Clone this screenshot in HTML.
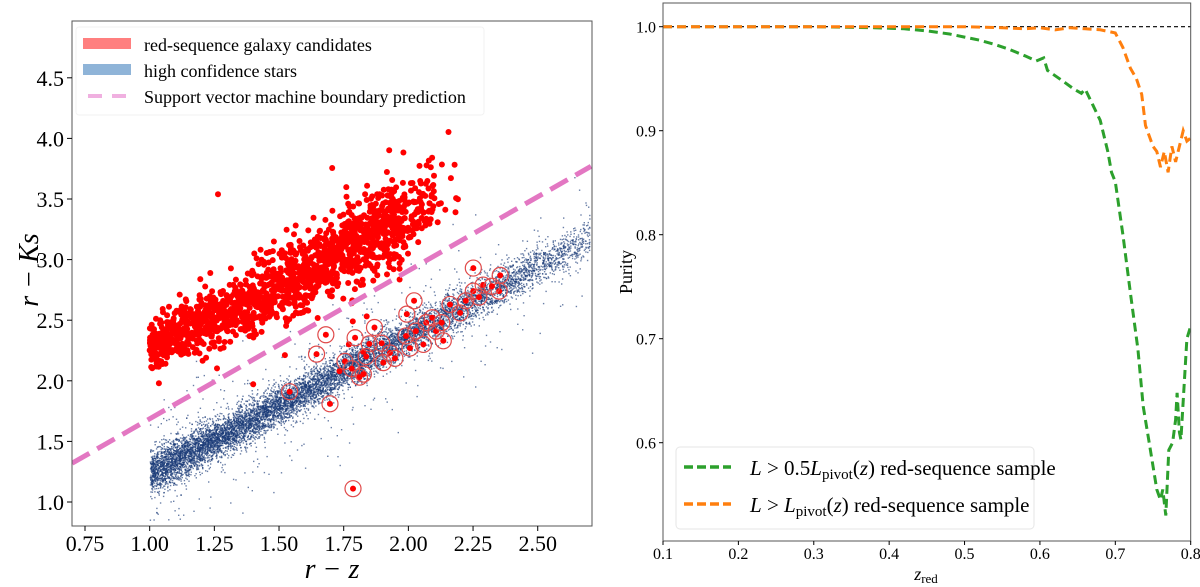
<!DOCTYPE html>
<html><head><meta charset="utf-8"><style>
html,body{margin:0;padding:0;background:#fff;}
svg{display:block;font-family:"Liberation Serif",serif;}
</style></head><body>
<svg width="1200" height="587" viewBox="0 0 1200 587" xmlns="http://www.w3.org/2000/svg">
<g id="left"></g>
<g id="right"></g>
</svg>
<script>
// ---- Left panel data ----
const xTicksL = [0.75,1.00,1.25,1.50,1.75,2.00,2.25,2.50];
const xTickLabelsL = ["0.75","1.00","1.25","1.50","1.75","2.00","2.25","2.50"];
const yTicksL = [1.0,1.5,2.0,2.5,3.0,3.5,4.0,4.5];
const yTickLabelsL = ["1.0","1.5","2.0","2.5","3.0","3.5","4.0","4.5"];
const svmX = [0.70, 2.706];
const svmY = [1.32, 3.77];
// red-sequence cloud: bin starts, counts, mean, spread
const galBinX = [1.00,1.10,1.20,1.30,1.40,1.50,1.60,1.70,1.80,1.90,2.00,2.10];
const galCount = [150,140,130,130,140,150,160,170,170,150,70,12];
const galMean = [2.28,2.37,2.47,2.57,2.67,2.78,2.89,3.00,3.12,3.25,3.38,3.45];
const galSd = [0.10,0.11,0.12,0.13,0.14,0.15,0.15,0.16,0.17,0.17,0.18,0.18];
// star cloud
const starBinX = [1.00,1.10,1.20,1.30,1.40,1.50,1.60,1.70,1.80,1.90,2.00,2.10,2.20,2.30,2.40,2.50,2.60];
const starCount = [900,900,850,800,750,700,650,620,600,580,550,500,450,400,330,260,200];
const starMean = [1.24,1.35,1.46,1.57,1.69,1.80,1.92,2.03,2.15,2.26,2.38,2.49,2.61,2.72,2.84,2.95,3.07];
const starSd = [0.09,0.09,0.08,0.08,0.08,0.08,0.08,0.08,0.08,0.08,0.08,0.08,0.08,0.08,0.08,0.08,0.08];
// circled candidates
const circX = [1.541,1.697,1.645,1.681,1.794,1.869,1.755,1.781,1.811,1.826,1.837,1.849,1.897,1.929,1.903,1.948,1.991,1.994,2.022,2.006,2.029,2.058,2.069,2.092,2.107,2.135,2.129,2.161,2.200,2.222,2.251,2.273,2.289,2.251,2.351,2.355,2.323,1.786];
const circY = [1.91,1.81,2.22,2.38,2.355,2.44,2.16,2.10,2.03,2.055,2.20,2.305,2.31,2.23,2.15,2.185,2.37,2.55,2.66,2.27,2.41,2.30,2.48,2.52,2.41,2.33,2.48,2.63,2.56,2.66,2.74,2.69,2.79,2.93,2.74,2.87,2.78,1.11];

// ---- Right panel data ----
const xTicksR = [0.1,0.2,0.3,0.4,0.5,0.6,0.7,0.8];
const xTickLabelsR = ["0.1","0.2","0.3","0.4","0.5","0.6","0.7","0.8"];
const yTicksR = [0.6,0.7,0.8,0.9,1.0];
const yTickLabelsR = ["0.6","0.7","0.8","0.9","1.0"];
const greenZ = [0.10,0.30,0.38,0.42,0.45,0.48,0.50,0.52,0.54,0.56,0.58,0.595,0.605,0.61,0.63,0.645,0.655,0.66,0.67,0.68,0.69,0.695,0.70,0.71,0.72,0.73,0.737,0.745,0.755,0.76,0.763,0.767,0.771,0.776,0.78,0.782,0.785,0.787,0.79,0.795,0.80];
const greenP = [1.000,1.000,0.999,0.998,0.996,0.993,0.990,0.987,0.983,0.978,0.972,0.967,0.970,0.958,0.948,0.940,0.936,0.940,0.925,0.910,0.880,0.860,0.851,0.800,0.744,0.690,0.635,0.600,0.555,0.545,0.555,0.530,0.593,0.600,0.622,0.648,0.610,0.603,0.640,0.700,0.712];
const orangeZ = [0.10,0.40,0.50,0.55,0.58,0.60,0.62,0.64,0.66,0.68,0.70,0.71,0.72,0.728,0.735,0.74,0.745,0.75,0.755,0.76,0.765,0.77,0.775,0.78,0.785,0.79,0.795,0.80];
const orangeP = [1.000,1.000,1.000,0.999,0.998,0.999,0.997,0.999,0.998,0.997,0.994,0.980,0.960,0.950,0.935,0.905,0.895,0.885,0.880,0.865,0.880,0.860,0.885,0.870,0.885,0.900,0.890,0.893];

const NS="http://www.w3.org/2000/svg";
function mk(tag,attrs,parent){const e=document.createElementNS(NS,tag);for(const k in attrs)e.setAttribute(k,attrs[k]);parent.appendChild(e);return e;}
let seed=12345;function rnd(){seed=(seed*1103515245+12345)%2147483648;return seed/2147483648;}
function gauss(){let u=rnd()||1e-9,v=rnd();return Math.sqrt(-2*Math.log(u))*Math.cos(2*Math.PI*v);}

// LEFT
const L=document.getElementById('left');
const lx0=72,lx1=592,ly0=21,ly1=526;
const sxL=v=>85+(v-0.75)*258.7;
const syL=v=>502-(v-1.0)*121.2;
mk('defs',{},L).innerHTML='<clipPath id="clipL"><rect x="72" y="21" width="520" height="505"/></clipPath><clipPath id="clipR"><rect x="663" y="3" width="528" height="538"/></clipPath>';
const gStars=mk('g',{'clip-path':'url(#clipL)',fill:'#1a3a78','fill-opacity':'0.65'},L);


starBinX.forEach((bx,i)=>{for(let k=0;k<starCount[i];k++){const x=bx+rnd()*0.1;let d=gauss()*starSd[i];if(rnd()<0.05)d*=3.5;const y=starMean[i]+(x-bx)*1.15+d;mk('rect',{x:sxL(x).toFixed(1),y:syL(y).toFixed(1),width:1.4,height:1.4},gStars);}});
const gGal=mk('g',{'clip-path':'url(#clipL)',fill:'#ff0000'},L);


galBinX.forEach((bx,i)=>{for(let k=0;k<galCount[i];k++){const x=bx+rnd()*0.1;let d=gauss()*galSd[i];if(rnd()<0.04)d*=2.2;const y=galMean[i]+(x-bx)*1.1+d;mk('circle',{cx:sxL(x).toFixed(1),cy:syL(y).toFixed(1),r:3},gGal);}});
const svm=mk('line',{x1:sxL(svmX[0]),y1:syL(svmY[0]),x2:sxL(svmX[1]),y2:syL(svmY[1]),stroke:'#e377c2','stroke-width':5,'stroke-dasharray':'20 9','clip-path':'url(#clipL)'},L);


circX.forEach((x,i)=>{const g=mk('g',{},L);


mk('circle',{cx:sxL(x),cy:syL(circY[i]),r:8,fill:'none',stroke:'#e04a4a','stroke-width':1.2},g);
mk('circle',{cx:sxL(x),cy:syL(circY[i]),r:3,fill:'#ff0000'},g);});
mk('rect',{x:lx0,y:ly0,width:lx1-lx0,height:ly1-ly0,fill:'none',stroke:'#555','stroke-width':1},L);
xTicksL.forEach((v,i)=>{mk('line',{x1:sxL(v),x2:sxL(v),y1:ly1,y2:ly1+5,stroke:'#000'},L);const t=mk('text',{x:sxL(v),y:551,'font-size':22,'text-anchor':'middle'},L);t.textContent=xTickLabelsL[i];

});
yTicksL.forEach((v,i)=>{mk('line',{x1:lx0-5,x2:lx0,y1:syL(v),y2:syL(v),stroke:'#000'},L);const t=mk('text',{x:lx0-8,y:syL(v)+8,'font-size':22,'text-anchor':'end'},L);t.textContent=yTickLabelsL[i];

});
</script>
<script>
(function(){
const L=document.getElementById('left');
L.insertAdjacentHTML('beforeend',
'<text x="332" y="578" font-size="28" font-style="italic" text-anchor="middle">r − z</text>'+
'<text transform="translate(38,270) rotate(-90)" font-size="28" font-style="italic" text-anchor="middle">r − Ks</text>'+
'<g>'+
'<rect x="76" y="27" width="408" height="88" fill="#fff" fill-opacity="0.8" stroke="#f2f2f2" rx="3"/>'+
'<rect x="83" y="38" width="48" height="11" fill="#ff7f7f"/>'+
'<text x="144" y="51" font-size="18">red-sequence galaxy candidates</text>'+
'<rect x="83" y="64" width="48" height="11" fill="#8fb4d8"/>'+
'<text x="144" y="77" font-size="18">high confidence stars</text>'+
'<line x1="88" x2="126" y1="96" y2="96" stroke="#f0b0e0" stroke-width="4" stroke-dasharray="14 10"/>'+
'<text x="144" y="103" font-size="18">Support vector machine boundary prediction</text></g>');
})();
(function(){
const R=document.getElementById('right');
const rx0=663,rx1=1190.7,ry0=3,ry1=541;
const sxR=v=>rx0+(v-0.1)*(rx1-rx0)/0.7;
const syR=v=>26.7+(1.0-v)*1040;
const ref=mk('line',{x1:rx0,x2:rx1,y1:syR(1.0),y2:syR(1.0),stroke:'#000','stroke-width':1.2,'stroke-dasharray':'4 3'},R);


function series(zs,ps,color,name){const d=zs.map((z,i)=>(i?'L':'M')+sxR(z).toFixed(1)+','+syR(ps[i]).toFixed(1)).join(' ');
const p=mk('path',{d:d,fill:'none',stroke:color,'stroke-width':3,'stroke-dasharray':'9 5','clip-path':'url(#clipR)'},R);

}
series(greenZ,greenP,'#2ca02c','green-purity-line');
series(orangeZ,orangeP,'#ff7f0e','orange-purity-line');
mk('rect',{x:rx0,y:ry0,width:rx1-rx0,height:ry1-ry0,fill:'none',stroke:'#555','stroke-width':1},R);
xTicksR.forEach((v,i)=>{mk('line',{x1:sxR(v),x2:sxR(v),y1:ry1,y2:ry1+4,stroke:'#000'},R);const t=mk('text',{x:sxR(v),y:559,'font-size':16,'text-anchor':'middle'},R);t.textContent=xTickLabelsR[i];

});
yTicksR.forEach((v,i)=>{mk('line',{x1:rx0-4,x2:rx0,y1:syR(v),y2:syR(v),stroke:'#000'},R);const t=mk('text',{x:rx0-7,y:syR(v)+6,'font-size':16,'text-anchor':'end'},R);t.textContent=yTickLabelsR[i];

});
R.insertAdjacentHTML('beforeend',
'<text x="926" y="580" font-size="18" font-style="italic" text-anchor="middle">z<tspan font-style="normal" font-size="13" dy="3">red</tspan></text>'+
'<text transform="translate(632,272) rotate(-90)" font-size="18" text-anchor="middle">Purity</text>'+
'<g>'+
'<rect x="676" y="447" width="358" height="82" fill="#fff" fill-opacity="0.8" stroke="#e6e6e6" rx="4"/>'+
'<line x1="684" x2="731" y1="467" y2="467" stroke="#2ca02c" stroke-width="3.5" stroke-dasharray="9 4"/>'+
'<text x="750" y="475" font-size="21"><tspan font-style="italic">L</tspan> &gt; 0.5<tspan font-style="italic">L</tspan><tspan font-size="15" dy="4">pivot</tspan><tspan dy="-4">(</tspan><tspan font-style="italic">z</tspan>) red-sequence sample</text>'+
'<line x1="684" x2="731" y1="504" y2="504" stroke="#ff7f0e" stroke-width="3.5" stroke-dasharray="9 4"/>'+
'<text x="750" y="512" font-size="21"><tspan font-style="italic">L</tspan> &gt; <tspan font-style="italic">L</tspan><tspan font-size="15" dy="4">pivot</tspan><tspan dy="-4">(</tspan><tspan font-style="italic">z</tspan>) red-sequence sample</text></g>');
})();
</script>
</body></html>
